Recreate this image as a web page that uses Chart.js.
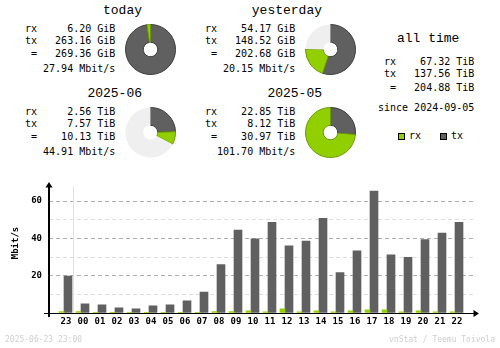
<!DOCTYPE html>
<html lang="en">
<head>
<meta charset="UTF-8">
<title>vnStat summary</title>
<script src="https://cdn.jsdelivr.net/npm/chart.js"></script>
<style>
  body { margin: 0; background: #fff; }
  #page { position: relative; width: 500px; height: 348px; overflow: hidden; background: #fff;
          font-family: "DejaVu Sans Mono", monospace; color: #000; }
  .t { position: absolute; white-space: pre; font-size: 10px; line-height: 12px; }
  .title { position: absolute; white-space: pre; font-size: 13px; line-height: 16px;
           font-family: "Liberation Mono", "DejaVu Sans Mono", monospace; }
  .pie { position: absolute; }
  .key { position: absolute; width: 5px; height: 5px; border: 1px solid #000; }
  .foot { position: absolute; white-space: pre; font-size: 8px; line-height: 10px; color: #cfcfcf; }
  #ylabel { position: absolute; font-size: 9px; font-weight: bold; white-space: pre;
            transform: translate(-50%, -50%) rotate(-90deg); }
  #bars { position: absolute; left: 0; top: 170px; }
</style>
</head>
<body>
<div id="page">
  <canvas id="bars" width="500" height="178"></canvas>
  <div id="ylabel" style="left:15px; top:243px;">Mbit/s</div>
  <div class="foot" style="left:5px; top:335px;">2025-06-23 23:00</div>
  <div class="foot" style="right:5px; top:335px;">vnStat / Teemu Toivola</div>
</div>

<script>
// summary blocks: today, yesterday, this month, last month
const periodTitles = ['today', 'yesterday', '2025-06', '2025-05'];
const periodRx = [6.20, 54.17, 2.56, 22.85];
const periodTx = [263.16, 148.52, 7.57, 8.12];
const periodTotal = [269.36, 202.68, 10.13, 30.97];
const periodUnit = ['GiB', 'GiB', 'TiB', 'TiB'];
const periodRate = ['27.94', '20.15', '44.91', '101.70'];

const allTimeRx = 67.32;
const allTimeTx = 137.56;
const allTimeTotal = 204.88;
const allTimeUnit = 'TiB';
const allTimeSince = '2024-09-05';

// hourly graph, Mbit/s
const hours = ['23', '00', '01', '02', '03', '04', '05', '06', '07', '08', '09', '10',
               '11', '12', '13', '14', '15', '16', '17', '18', '19', '20', '21', '22'];
const hourRx = [0.8, 0.8, 0.2, 0.2, 0.2, 0.2, 0.2, 0.3, 0.3, 0.8, 0.8, 1.2,
                0.6, 2.3, 0.6, 1.2, 0.6, 1.2, 1.7, 1.7, 0.6, 1.2, 0.6, 0.6];
const hourTx = [19.8, 4.9, 4.4, 2.8, 2.3, 3.8, 4.4, 6.5, 11.2, 26.0, 44.5, 39.8,
                48.6, 36.0, 38.6, 50.7, 21.7, 33.3, 65.4, 31.2, 29.8, 39.3, 42.8, 48.6];
const yMax = 70;

const rxColor = '#92cf00', rxEdge = '#6a9a00';
const txColor = '#606060', txEdge = '#3c3c3c';
const restColor = '#efefef';

const page = document.getElementById('page');

function addText(cls, text, style) {
  const d = document.createElement('div');
  d.className = cls;
  d.textContent = text;
  Object.assign(d.style, style);
  page.appendChild(d);
  return d;
}

function valueLines(rx, tx, total, unit) {
  const f = v => (v.toFixed(2) + ' ' + unit).padStart(13);
  return ['rx' + f(rx), 'tx' + f(tx), ' =' + f(total)];
}

// where each block goes on the page
const blocks = [
  { left: 25,  rows: [29, 41, 54, 69],     titleRight: 142, titleY: 11, cx: 150.5, cy: 49 },
  { left: 205, rows: [29, 41, 54, 69],     titleRight: 322, titleY: 11, cx: 330.5, cy: 49 },
  { left: 25,  rows: [112, 124, 137, 152], titleRight: 142, titleY: 94, cx: 150.5, cy: 132 },
  { left: 205, rows: [112, 124, 137, 152], titleRight: 322, titleY: 94, cx: 330.5, cy: 132 }
];

periodTitles.forEach((title, i) => {
  const b = blocks[i];
  addText('title', title, { right: (500 - b.titleRight) + 'px', top: (b.titleY - 8) + 'px' });
  const lines = valueLines(periodRx[i], periodTx[i], periodTotal[i], periodUnit[i]);
  lines.push((periodRate[i] + ' Mbit/s').padStart(15));
  lines.forEach((ln, r) => addText('t', ln, { left: b.left + 'px', top: (b.rows[r] - 6) + 'px' }));

  // pie is scaled to the larger of the two periods it is compared with
  const pair = i < 2 ? [0, 1] : [2, 3];
  const full = Math.max(periodTotal[pair[0]], periodTotal[pair[1]]);
  const cv = document.createElement('canvas');
  cv.className = 'pie';
  cv.width = 51; cv.height = 51;
  cv.style.left = (b.cx - 25.5) + 'px';
  cv.style.top = (b.cy - 25.5) + 'px';
  page.appendChild(cv);
  new Chart(cv, {
    type: 'doughnut',
    data: {
      labels: ['tx', 'rx', ''],
      datasets: [{
        data: [periodTx[i], periodRx[i], full - periodTotal[i]],
        backgroundColor: [txColor, rxColor, restColor],
        borderColor: [txEdge, rxEdge, restColor],
        borderWidth: [1, 1, 0]
      }]
    },
    options: {
      responsive: false, animation: false, events: [],
      cutout: '29%',
      plugins: { legend: { display: false }, tooltip: { enabled: false } }
    }
  });
});

// all time block
addText('title', 'all time', { left: '397px', top: '31px' });
valueLines(allTimeRx, allTimeTx, allTimeTotal, allTimeUnit).forEach((ln, r) =>
  addText('t', ln, { left: '384px', top: ([62, 74, 88][r] - 6) + 'px' }));
addText('t', 'since ' + allTimeSince, { left: '378px', top: '102px' });

// legend
addText('key', '', { left: '398px', top: '133px', background: rxColor });
addText('t', 'rx', { left: '409px', top: '130px' });
addText('key', '', { left: '440px', top: '133px', background: txColor });
addText('t', 'tx', { left: '451px', top: '130px' });

const axesPlugin = {
  id: 'axes',
  beforeDatasetsDraw(chart) {
    const { ctx, chartArea: a, scales: { x } } = chart;
    // day change marker between 23 and 00
    ctx.fillStyle = '#e2e2e2';
    ctx.fillRect(Math.round(x.getPixelForValue(0.5)), a.top + 4, 1, a.bottom - a.top - 4);
  },
  afterDatasetsDraw(chart) {
    const { ctx, chartArea: a } = chart;
    ctx.save();
    ctx.fillStyle = '#000';
    ctx.fillRect(48, a.top + 4, 2, a.bottom - a.top);
    ctx.beginPath();
    ctx.moveTo(49, a.top - 0.5);
    ctx.lineTo(45.5, a.top + 5);
    ctx.lineTo(52.5, a.top + 5);
    ctx.closePath();
    ctx.fill();
    ctx.fillRect(44, a.bottom, 431, 1);
    ctx.beginPath();
    ctx.moveTo(479, a.bottom + 0.5);
    ctx.lineTo(473.5, a.bottom - 3);
    ctx.lineTo(473.5, a.bottom + 4);
    ctx.closePath();
    ctx.fill();
    ctx.restore();
  }
};

const tickFont = { family: 'DejaVu Sans Mono', size: 9, weight: 'bold' };

new Chart(document.getElementById('bars'), {
  type: 'bar',
  data: {
    datasets: [
      { label: 'rx', data: hourRx.map((v, i) => ({ x: i, y: v })), backgroundColor: rxColor, barThickness: 5 },
      { label: 'tx', data: hourTx.map((v, i) => ({ x: i, y: v })), backgroundColor: txColor, barThickness: 8 }
    ]
  },
  options: {
    responsive: false, animation: false, events: [],
    layout: { padding: { top: 10, right: 27, bottom: 0, left: 0 } },
    plugins: { legend: { display: false }, tooltip: { enabled: false } },
    scales: {
      x: {
        type: 'linear',
        offset: false,
        min: -15 / 17,
        max: 409 / 17,
        afterFit: s => { s.height = 35; },
        afterBuildTicks: s => { s.ticks = hours.map((h, i) => ({ value: i })); },
        grid: { display: false, drawTicks: false },
        border: { display: false },
        ticks: {
          autoSkip: false, maxRotation: 0, padding: 3, labelOffset: 2,
          color: '#000', font: tickFont,
          callback: v => hours[v]
        }
      },
      y: {
        min: 0,
        max: yMax,
        afterFit: s => { s.width = 49; },
        border: { display: false, dash: [4, 3] },
        grid: {
          drawTicks: false,
          color: c => {
            const v = c.tick.value;
            if (v <= 0 || v >= yMax) return 'rgba(0,0,0,0)';
            return v % 20 === 0 ? '#b0b0b0' : '#dedede';
          }
        },
        ticks: {
          stepSize: 10, padding: 7, color: '#000', font: tickFont,
          callback: v => (v > 0 && v < yMax && v % 20 === 0) ? v : ''
        }
      }
    }
  },
  plugins: [axesPlugin]
});
</script>
</body>
</html>
